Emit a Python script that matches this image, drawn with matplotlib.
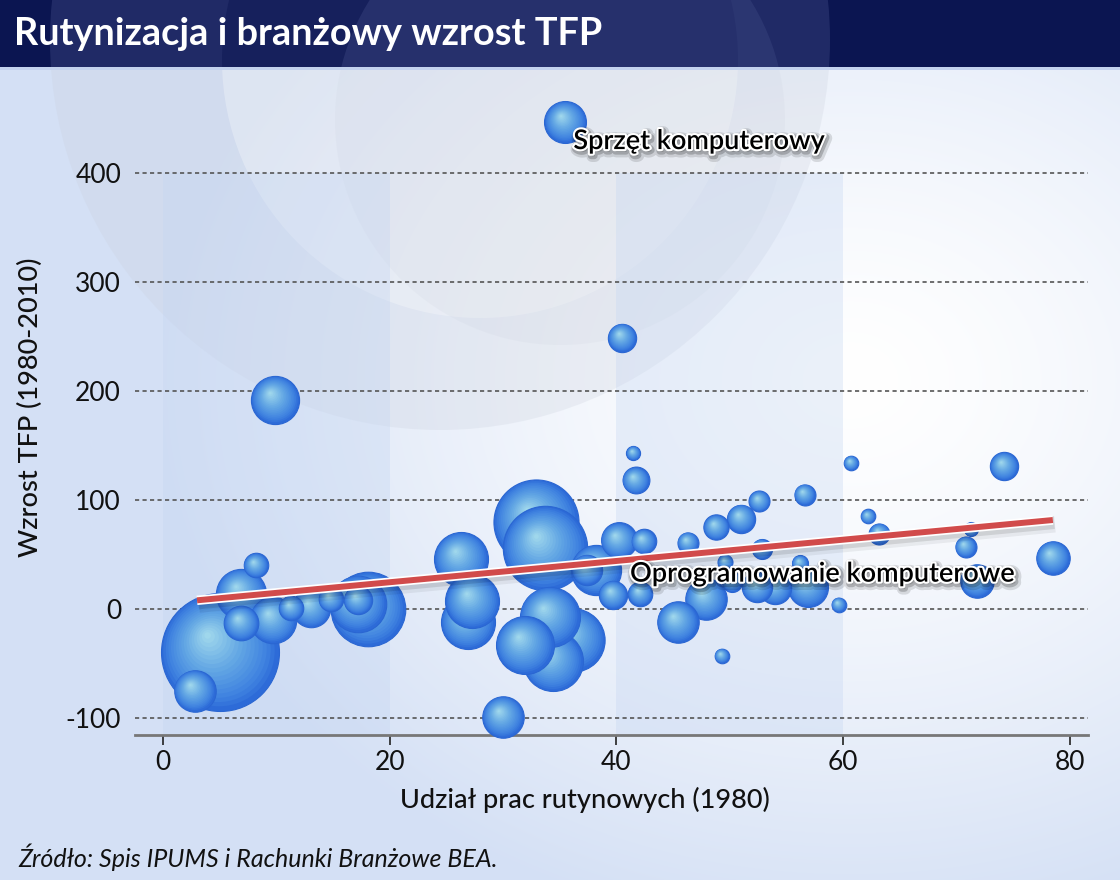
import numpy as np
import matplotlib
matplotlib.use("Agg")
import matplotlib.pyplot as plt
import matplotlib.patheffects as pe
from matplotlib.colors import LinearSegmentedColormap, to_rgb
from matplotlib.transforms import offset_copy
from matplotlib.patches import Circle, Rectangle

plt.rcParams['font.family'] = ['Lato', 'DejaVu Sans']

# ---------------- data ----------------
title = "Rutynizacja i branżowy wzrost TFP"
x_label = "Udział prac rutynowych (1980)"
y_label = "Wzrost TFP (1980-2010)"
source = "Źródło: Spis IPUMS i Rachunki Branżowe BEA."

# routine share 1980 (%)
routine_share = [5.0, 2.8, 8.2, 6.9, 6.9, 9.7, 11.3, 13.1, 14.8, 18.1, 17.2, 17.2, 9.9,
                 32.9, 33.7, 26.3, 27.3, 26.9, 31.9, 34.1, 34.4, 36.2, 30.0, 38.2, 37.4,
                 40.2, 42.4, 39.7, 42.1, 41.7, 47.9, 45.4, 49.3, 48.8, 46.3, 49.6,
                 35.5, 40.5, 41.5,
                 74.2, 78.5, 71.8, 60.7, 62.2, 63.2, 56.6, 52.6, 51.0, 52.8, 50.2,
                 52.4, 54.0, 56.9, 56.2, 59.6, 70.8, 71.3]
# TFP growth 1980-2010 (%)
tfp_growth = [-39, -75, 40, 14, -13, -10, 1, 1, 9, 0, 5, 8, 192,
              80, 56, 46, 7, -12, -33, -7, -48, -28, -99, 36, 36,
              63, 62, 13, 14, 118, 9, -12, -43, 75, 61, 43,
              447, 249, 143,
              131, 47, 26, 134, 85, 69, 105, 99, 83, 55, 25,
              20, 19, 20, 42, 4, 57, 73]
# industry weight (relative employment, bubble area)
weight = [34.8, 4.3, 1.5, 6.3, 3.0, 5.4, 1.5, 3.7, 1.5, 13.9, 8.0, 2.0, 5.8,
          18.1, 17.8, 7.3, 7.3, 7.3, 8.4, 9.0, 9.0, 10.0, 4.3, 6.3, 2.3,
          3.2, 1.5, 2.0, 1.5, 1.8, 4.3, 4.3, 0.53, 1.6, 1.1, 0.56,
          4.4, 2.0, 0.5,
          2.0, 2.8, 2.8, 0.53, 0.53, 1.1, 1.1, 1.1, 2.0, 1.0, 1.0,
          2.3, 2.6, 4.0, 0.64, 0.53, 1.1, 0.49]

labels = {"Sprzęt komputerowy": (36.2, 429), "Oprogramowanie komputerowe": (41.2, 32)}
trend_x = [3.0, 78.5]
trend_y = [8.0, 81.7]

x_ticks = [0, 20, 40, 60, 80]
y_ticks = [-100, 0, 100, 200, 300, 400]
shade_bands = [(0, 20), (40, 60)]

# ---------------- figure ----------------
W, H, DPI = 1120, 880, 100
fig = plt.figure(figsize=(W / DPI, H / DPI), dpi=DPI)

# background axes (pixel coords)
bg = fig.add_axes([0, 0, 1, 1])
bg.set_xlim(0, W)
bg.set_ylim(H, 0)
bg.axis('off')
yy, xx = np.mgrid[0:H, 0:W]
d = np.sqrt(((xx - 850) / 700.0) ** 2 + ((yy - 380) / 560.0) ** 2)
d = np.clip(d, 0, 1)
c_in = np.array(to_rgb('#ffffff'))
c_out = np.array(to_rgb('#d4e0f5'))
img = c_in[None, None, :] * (1 - d[..., None] ** 1.4) + c_out[None, None, :] * (d[..., None] ** 1.4)
bg.imshow(img, extent=(0, W, H, 0), zorder=0, aspect='auto')

body_clip = Rectangle((0, 68), W, H - 68, transform=bg.transData, visible=False)
bg.add_patch(body_clip)
logo = [((440, 40), 390, '#c9cfdc', 0.26),
        ((480, 60), 258, '#ffffff', 0.28),
        ((560, 120), 225, '#c9cfdc', 0.16)]
for (cx, cy), r, col, a in logo:
    c = Circle((cx, cy), r, facecolor=col, edgecolor='none', alpha=a, zorder=1)
    bg.add_patch(c)
    c.set_clip_path(body_clip)

# header
bg.add_patch(Rectangle((0, 0), W, 67, facecolor='#0b1551', edgecolor='none', zorder=2))
head_clip = Rectangle((0, 0), W, 67, transform=bg.transData, visible=False)
bg.add_patch(head_clip)
for (cx, cy), r, col, a in logo:
    hc = '#3a4580' if col != '#ffffff' else '#0b1551'
    c = Circle((cx, cy), r, facecolor=hc, edgecolor='none', alpha=0.45, zorder=3)
    bg.add_patch(c)
    c.set_clip_path(head_clip)
bg.add_patch(Rectangle((0, 67), W, 3, facecolor='#c3d2ee', edgecolor='none', zorder=3))
fig.text(14 / W, 1 - 34 / H, title, color='white', fontsize=27.3, fontweight='bold',
         ha='left', va='center')

# ---------------- main axes ----------------
px_left, px_right, px_bottom, px_top = 135, 1088, 735, 86
ax = fig.add_axes([px_left / W, 1 - px_bottom / H, (px_right - px_left) / W,
                   (px_bottom - px_top) / H])
ax.set_facecolor('none')
ymin, ymax = -115.6, 480
ax.set_xlim(-2.47, 81.6)
ax.set_ylim(ymin, ymax)

for a0, a1 in shade_bands:
    ax.fill_betweenx([ymin, 400], a0, a1, color='#c5d6f2', alpha=0.35, lw=0, zorder=0.5)

for yv in y_ticks:
    ax.axhline(yv, color='#555555', lw=1.2, ls=(0, (2.5, 2)), zorder=1)

for s in ['top', 'right', 'left']:
    ax.spines[s].set_visible(False)
ax.spines['bottom'].set_color('#777777')
ax.spines['bottom'].set_linewidth(2)
ax.set_xticks(x_ticks)
ax.set_yticks(y_ticks)
ax.tick_params(axis='x', length=7, width=1.2, color='#222222', labelsize=19, pad=4)
ax.tick_params(axis='y', length=0, labelsize=19, pad=10)
ax.set_yticklabels([str(v) for v in y_ticks])
for lab in ax.get_xticklabels() + ax.get_yticklabels():
    lab.set_color('#111111')

fig.text(30 / W, 1 - 407 / H, y_label, rotation=90, fontsize=19.5, ha='center', va='center',
         color='#111111', fontweight='medium')
fig.text(585 / W, 1 - 800 / H, x_label, fontsize=19.5, ha='center', va='center',
         color='#111111', fontweight='medium')
fig.text(18 / W, 1 - 857 / H, source, fontsize=18, style='italic', ha='left', va='center',
         color='#111111')

# ---------------- bubbles ----------------
cmap = LinearSegmentedColormap.from_list('sph', [(0.0, '#2d6bd8'), (0.18, '#3f82e0'),
                                                 (0.55, '#64a8e4'), (1.0, '#a6dced')])
N = 18
order = np.argsort(weight)[::-1]
for i in order:
    xv, yv, w = routine_share[i], tfp_growth[i], weight[i]
    r_px = 10.0 * np.sqrt(w)
    r_pt = r_px * 72.0 / DPI
    for k in range(N):
        f = 1.0 - k / N
        shift = (1 - f) * 0.36 * r_pt
        tr = offset_copy(ax.transData, fig=fig, x=-0.6 * shift, y=0.8 * shift, units='points')
        ax.scatter([xv], [yv], s=(2 * r_pt * f) ** 2, color=cmap((1 - f) ** 0.9),
                   edgecolors='#2a66d2' if k == 0 else 'none', linewidths=0.8 if k == 0 else 0,
                   transform=tr, zorder=3, clip_on=False)

# trend line
ax.plot(trend_x, trend_y, color='#d14b4b', lw=4.3, solid_capstyle='butt', zorder=5,
        path_effects=[pe.Stroke(offset=(1.5, -3), linewidth=12, foreground='black', alpha=0.06),
                      pe.Stroke(offset=(1, -2), linewidth=9, foreground='black', alpha=0.10),
                      pe.Stroke(linewidth=6.8, foreground='white'),
                      pe.Normal()])

for txt, (lx, ly) in labels.items():
    ax.text(lx, ly, txt, fontsize=19.5, fontweight='semibold', color='black', ha='left',
            va='center', zorder=6,
            path_effects=[pe.Stroke(offset=(1.5, -2), linewidth=8, foreground='black', alpha=0.12),
                          pe.Stroke(offset=(1, -1.5), linewidth=5, foreground='black', alpha=0.2),
                          pe.Stroke(linewidth=3, foreground='white'),
                          pe.Normal()])

fig.savefig('out.png', dpi=DPI)
